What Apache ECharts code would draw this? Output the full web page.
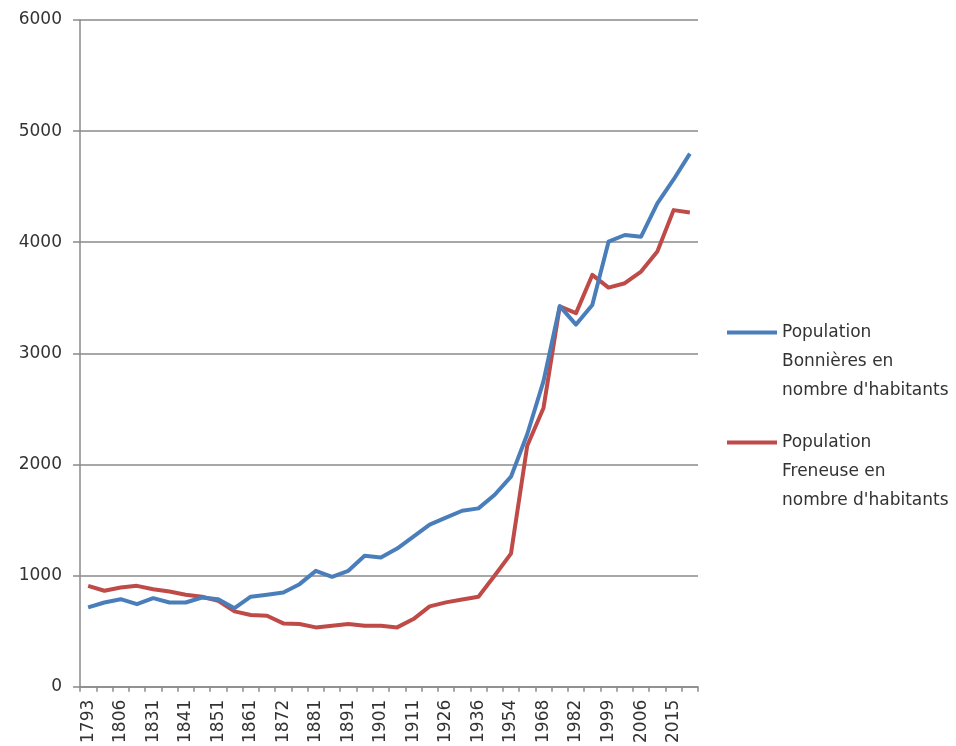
<!DOCTYPE html>
<html>
<head>
<meta charset="utf-8">
<script src="https://cdn.jsdelivr.net/npm/echarts@6/dist/echarts.min.js"></script>
<style>
  html, body { margin: 0; padding: 0; background: #fff; }
  #chart { width: 956px; height: 746px; }
</style>
</head>
<body>
<div id="chart"></div>
<script>
// Census years
const years = [
  '1793', '1800', '1806', '1821', '1831', '1836', '1841', '1846', '1851', '1856',
  '1861', '1866', '1872', '1876', '1881', '1886', '1891', '1896', '1901', '1906',
  '1911', '1921', '1926', '1931', '1936', '1946', '1954', '1962', '1968', '1975',
  '1982', '1990', '1999', '2004', '2006', '2011', '2015', '2017'
];

// Inhabitants of Bonnières-sur-Seine
const bonnieres = [
  714, 758, 788, 743, 797, 758, 758, 803, 788, 707,
  810, 828, 848, 923, 1043, 989, 1043, 1178, 1162, 1243,
  1351, 1459, 1522, 1584, 1605, 1728, 1890, 2272, 2750, 3425,
  3259, 3436, 4005, 4065, 4050, 4349, 4565, 4798
];

// Inhabitants of Freneuse
const freneuse = [
  908, 864, 893, 908, 878, 857, 828, 810, 774, 678,
  645, 639, 570, 564, 534, 549, 564, 549, 549, 534,
  609, 723, 759, 785, 810, 1001, 1198, 2168, 2509, 3422,
  3362, 3706, 3592, 3631, 3736, 3916, 4289, 4268
];

const yTicks = { min: 0, max: 6000, interval: 1000 };

const seriesNames = [
  "Population Bonnières en nombre d'habitants",
  "Population Freneuse en nombre d'habitants"
];
// Legend text, wrapped over three lines; two blank lines in front keep the
// line sample level with the first line of text.
const legendLines = {
  [seriesNames[0]]: " \n \nPopulation\nBonnières en\nnombre d'habitants",
  [seriesNames[1]]: " \n \nPopulation\nFreneuse en\nnombre d'habitants"
};

const BLUE = '#4a7ebb';
const RED = '#be4b48';
const FONT = '"DejaVu Sans", Verdana, sans-serif';
const TEXT = '#333333';
const AXIS = '#8a8a8a';

function legendFor(name, top) {
  return {
    data: [name],
    left: 727,
    top: top,
    orient: 'vertical',
    itemWidth: 50,
    itemHeight: 4,
    itemGap: 0,
    icon: 'rect',
    padding: 0,
    formatter: n => legendLines[n],
    textStyle: {
      fontFamily: FONT,
      fontSize: 17,
      color: TEXT,
      lineHeight: 29
    }
  };
}

const chart = echarts.init(document.getElementById('chart'), null, { renderer: 'canvas' });
chart.setOption({
  animation: false,
  backgroundColor: '#fff',
  grid: { left: 80, top: 20, width: 618, height: 669.5, containLabel: false },
  legend: [legendFor(seriesNames[0], 260), legendFor(seriesNames[1], 370)],
  xAxis: {
    type: 'category',
    data: years,
    boundaryGap: true,
    axisLine: { lineStyle: { color: AXIS, width: 1.5 } },
    axisTick: { show: true, interval: 0, length: 5, lineStyle: { color: AXIS, width: 1.5 } },
    axisLabel: {
      interval: 1,
      rotate: 90,
      margin: 13,
      fontFamily: FONT,
      fontSize: 17,
      color: TEXT
    },
    splitLine: { show: false }
  },
  yAxis: {
    type: 'value',
    min: yTicks.min,
    max: yTicks.max,
    interval: yTicks.interval,
    axisLine: { show: true, lineStyle: { color: AXIS, width: 1.5 } },
    axisTick: { show: true, length: 7, lineStyle: { color: AXIS, width: 1.5 } },
    axisLabel: {
      margin: 18,
      fontFamily: FONT,
      fontSize: 17,
      color: TEXT,
      formatter: v => String(v)
    },
    splitLine: { show: true, lineStyle: { color: AXIS, width: 1.5 } }
  },
  series: [
    {
      name: seriesNames[0],
      type: 'line',
      data: bonnieres,
      symbol: 'none',
      lineStyle: { color: BLUE, width: 4, join: 'round' },
      itemStyle: { color: BLUE },
      z: 3
    },
    {
      name: seriesNames[1],
      type: 'line',
      data: freneuse,
      symbol: 'none',
      lineStyle: { color: RED, width: 4, join: 'round' },
      itemStyle: { color: RED },
      z: 2
    }
  ]
});
</script>
</body>
</html>
